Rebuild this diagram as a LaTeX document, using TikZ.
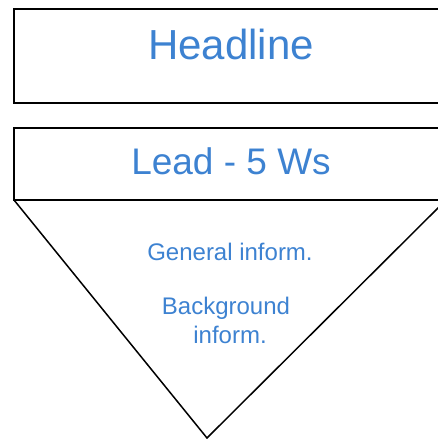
\documentclass[tikz,border=0pt]{standalone}
\usepackage{fontspec}
\setmainfont{Liberation Sans}
\definecolor{textblue}{RGB}{61,130,209}
\begin{document}
\begin{tikzpicture}[x=1pt,y=-1pt,
  frame/.style={draw=black,line width=2.2pt,line join=miter},
  funnel/.style={draw=black,line width=1.5pt,line join=miter},
  label/.style={text=textblue,inner sep=0pt,anchor=base,align=center}]
\path[use as bounding box] (0,0) rectangle (437,439);
% headline box (runs off the right edge)
\coordinate (h1) at (14,9);
\coordinate (h2) at (14,103);
\draw[frame] (450,9) -- (h1) -- (h2) -- (450,103);
% lead box
\coordinate (l1) at (14,128);
\coordinate (l2) at (14,200);
\draw[frame] (450,128) -- (l1) -- (l2) -- (450,200);
% inverted pyramid below the lead
\coordinate (tip) at (207,438);
\coordinate (tr) at (446,200);
\draw[funnel] (l2) -- (tip) -- (tr);
% labels
\node[label,font=\fontsize{42}{48}\selectfont] (headline) at (231,59) {Headline};
\node[label,font=\fontsize{37}{44}\selectfont] (lead) at (231,174) {Lead - 5 Ws};
\node[label,font=\fontsize{24}{29}\selectfont] (general) at (230,260) {General inform.};
\node[label,font=\fontsize{24}{29}\selectfont] (background) at (226,314) {Background};
\node[label,font=\fontsize{24}{29}\selectfont] (inform) at (230,343) {inform.};
\end{tikzpicture}
\end{document}
